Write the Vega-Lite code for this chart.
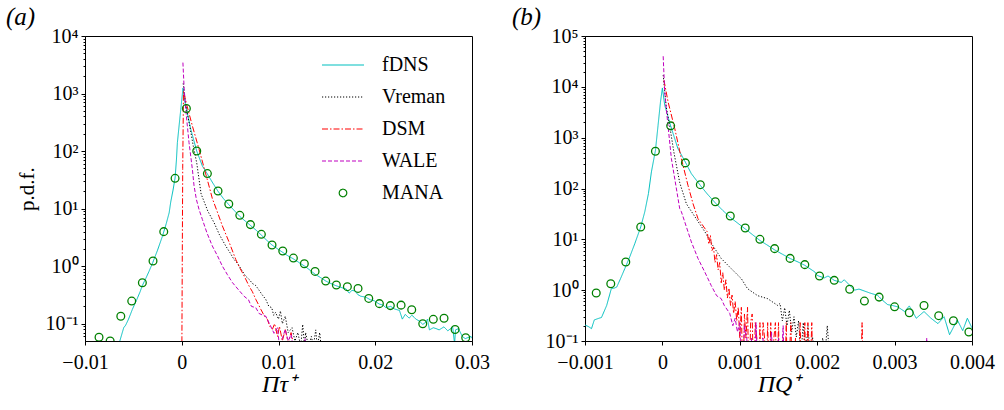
{
"$schema": "https://vega.github.io/schema/vega-lite/v6.json",
"padding": {"left": 5, "top": 4, "right": 5, "bottom": 5},
"background": "white",
"config": {
 "font": "Liberation Serif",
 "view": {"stroke": "black", "strokeWidth": 1},
 "axis": {"labelFont": "Liberation Serif", "labelFontSize": 20, "labelColor": "black", "tickColor": "black", "domainColor": "black", "grid": false, "tickSize": 4, "labelPadding": 3, "titleFont": "Liberation Serif", "titleColor": "black", "titleFontWeight": "normal", "labelFlush": false},
 "title": {"font": "Liberation Serif", "fontSize": 25, "fontStyle": "italic", "fontWeight": "normal", "anchor": "start", "frame": "bounds", "color": "black"},
 "concat": {"spacing": 21}
},
"datasets": {
 "a_lines": [
  {"s":"fDNS","x":-0.0066,"y":0.035},{"s":"fDNS","x":-0.0064,"y":0.05},{"s":"fDNS","x":-0.006,"y":0.085},{"s":"fDNS","x":-0.0058,"y":0.094},{"s":"fDNS","x":-0.0055,"y":0.12},{"s":"fDNS","x":-0.0051,"y":0.178},{"s":"fDNS","x":-0.0047,"y":0.25},{"s":"fDNS","x":-0.0043,"y":0.36},{"s":"fDNS","x":-0.0041,"y":0.45},{"s":"fDNS","x":-0.0037,"y":0.62},{"s":"fDNS","x":-0.0034,"y":0.8},{"s":"fDNS","x":-0.003,"y":1.15},{"s":"fDNS","x":-0.0025,"y":1.9},{"s":"fDNS","x":-0.002,"y":3.3},{"s":"fDNS","x":-0.0016,"y":5.5},{"s":"fDNS","x":-0.0013,"y":8.5},{"s":"fDNS","x":-0.00114,"y":13},{"s":"fDNS","x":-0.0009,"y":21},{"s":"fDNS","x":-0.00069,"y":34},{"s":"fDNS","x":-0.00055,"y":70},{"s":"fDNS","x":-0.00045,"y":141},{"s":"fDNS","x":-0.0003,"y":250},{"s":"fDNS","x":-0.0001,"y":533},{"s":"fDNS","x":0.00013,"y":1250},{"s":"fDNS","x":0.00034,"y":700},{"s":"fDNS","x":0.00048,"y":548},{"s":"fDNS","x":0.00093,"y":240},{"s":"fDNS","x":0.00155,"y":100},{"s":"fDNS","x":0.00213,"y":55},{"s":"fDNS","x":0.00265,"y":40},{"s":"fDNS","x":0.0032,"y":28},{"s":"fDNS","x":0.00375,"y":20},{"s":"fDNS","x":0.0043,"y":15},{"s":"fDNS","x":0.0049,"y":11.5},{"s":"fDNS","x":0.0055,"y":9},{"s":"fDNS","x":0.006,"y":7.3},{"s":"fDNS","x":0.0066,"y":6},{"s":"fDNS","x":0.0071,"y":5.1},{"s":"fDNS","x":0.0077,"y":4.2},{"s":"fDNS","x":0.0082,"y":3.5},{"s":"fDNS","x":0.0088,"y":2.8},{"s":"fDNS","x":0.0093,"y":2.35},{"s":"fDNS","x":0.0099,"y":2},{"s":"fDNS","x":0.0104,"y":1.75},{"s":"fDNS","x":0.011,"y":1.5},{"s":"fDNS","x":0.0115,"y":1.35},{"s":"fDNS","x":0.0121,"y":1.16},{"s":"fDNS","x":0.0127,"y":1},{"s":"fDNS","x":0.0133,"y":0.84},{"s":"fDNS","x":0.0138,"y":0.72},{"s":"fDNS","x":0.0143,"y":0.64},{"s":"fDNS","x":0.0149,"y":0.55},{"s":"fDNS","x":0.0154,"y":0.5},{"s":"fDNS","x":0.0159,"y":0.46},{"s":"fDNS","x":0.0164,"y":0.43},{"s":"fDNS","x":0.017,"y":0.4},{"s":"fDNS","x":0.0173,"y":0.34},{"s":"fDNS","x":0.0176,"y":0.38},{"s":"fDNS","x":0.0179,"y":0.37},{"s":"fDNS","x":0.0182,"y":0.32},{"s":"fDNS","x":0.0185,"y":0.3},{"s":"fDNS","x":0.019,"y":0.29},{"s":"fDNS","x":0.0195,"y":0.26},{"s":"fDNS","x":0.0199,"y":0.25},{"s":"fDNS","x":0.0204,"y":0.22},{"s":"fDNS","x":0.0208,"y":0.21},{"s":"fDNS","x":0.0211,"y":0.19},{"s":"fDNS","x":0.0216,"y":0.2},{"s":"fDNS","x":0.022,"y":0.18},{"s":"fDNS","x":0.0225,"y":0.17},{"s":"fDNS","x":0.0228,"y":0.12},{"s":"fDNS","x":0.0231,"y":0.145},{"s":"fDNS","x":0.0235,"y":0.125},{"s":"fDNS","x":0.0238,"y":0.14},{"s":"fDNS","x":0.0242,"y":0.12},{"s":"fDNS","x":0.0246,"y":0.11},{"s":"fDNS","x":0.0249,"y":0.097},{"s":"fDNS","x":0.0252,"y":0.105},{"s":"fDNS","x":0.0254,"y":0.12},{"s":"fDNS","x":0.0256,"y":0.078},{"s":"fDNS","x":0.026,"y":0.085},{"s":"fDNS","x":0.0263,"y":0.082},{"s":"fDNS","x":0.0266,"y":0.078},{"s":"fDNS","x":0.0271,"y":0.088},{"s":"fDNS","x":0.0275,"y":0.075},{"s":"fDNS","x":0.028,"y":0.088},{"s":"fDNS","x":0.0282,"y":0.045},{"s":"fDNS","x":0.0283,"y":0.078},{"s":"fDNS","x":0.0286,"y":0.082},{"s":"fDNS","x":0.029,"y":0.06},{"s":"fDNS","x":0.0293,"y":0.055},{"s":"fDNS","x":0.0299,"y":0.06},{"s":"fDNS","x":0.0302,"y":0.05},
  {"s":"Vreman","x":0.00015,"y":1500},{"s":"Vreman","x":0.0003,"y":900},{"s":"Vreman","x":0.0005,"y":520},{"s":"Vreman","x":0.00083,"y":273},{"s":"Vreman","x":0.0012,"y":120},{"s":"Vreman","x":0.00155,"y":62},{"s":"Vreman","x":0.002,"y":18},{"s":"Vreman","x":0.0027,"y":9},{"s":"Vreman","x":0.00334,"y":5.7},{"s":"Vreman","x":0.0039,"y":3.5},{"s":"Vreman","x":0.00455,"y":2.24},{"s":"Vreman","x":0.005,"y":1.7},{"s":"Vreman","x":0.0054,"y":1.31},{"s":"Vreman","x":0.0058,"y":1.1},{"s":"Vreman","x":0.0062,"y":0.85},{"s":"Vreman","x":0.0066,"y":0.67},{"s":"Vreman","x":0.007,"y":0.58},{"s":"Vreman","x":0.0073,"y":0.5},{"s":"Vreman","x":0.00765,"y":0.46},{"s":"Vreman","x":0.008,"y":0.38},{"s":"Vreman","x":0.0083,"y":0.32},{"s":"Vreman","x":0.00868,"y":0.265},{"s":"Vreman","x":0.009,"y":0.2},{"s":"Vreman","x":0.0093,"y":0.19},{"s":"Vreman","x":0.0095,"y":0.14},{"s":"Vreman","x":0.0097,"y":0.157},{"s":"Vreman","x":0.01,"y":0.12},{"s":"Vreman","x":0.0102,"y":0.166},{"s":"Vreman","x":0.0104,"y":0.1},{"s":"Vreman","x":0.0107,"y":0.135},{"s":"Vreman","x":0.011,"y":0.07},{"s":"Vreman","x":0.0114,"y":0.085},{"s":"Vreman","x":0.0117,"y":0.05},{"s":"Vreman","x":0.012,"y":0.07},{"s":"Vreman","x":0.0123,"y":0.04},{"s":"Vreman","x":0.0125,"y":0.097},{"s":"Vreman","x":0.0127,"y":0.04},{"s":"Vreman","x":0.0128,"y":0.07},{"s":"Vreman","x":0.0131,"y":0.04},{"s":"Vreman","x":0.0134,"y":0.06},{"s":"Vreman","x":0.0136,"y":0.04},{"s":"Vreman","x":0.01385,"y":0.078},{"s":"Vreman","x":0.014,"y":0.04},{"s":"Vreman","x":0.01426,"y":0.07},{"s":"Vreman","x":0.0144,"y":0.04},
  {"s":"DSM","x":0.00001,"y":0.03},{"s":"DSM","x":0.00005,"y":1},{"s":"DSM","x":0.0001,"y":50},{"s":"DSM","x":0.00018,"y":1100},{"s":"DSM","x":0.0005,"y":650},{"s":"DSM","x":0.0011,"y":273},{"s":"DSM","x":0.0018,"y":106},{"s":"DSM","x":0.00248,"y":40},{"s":"DSM","x":0.0029,"y":22},{"s":"DSM","x":0.00316,"y":15},{"s":"DSM","x":0.0036,"y":9.5},{"s":"DSM","x":0.0042,"y":5},{"s":"DSM","x":0.0049,"y":2.6},{"s":"DSM","x":0.00558,"y":1.31},{"s":"DSM","x":0.0059,"y":1},{"s":"DSM","x":0.00627,"y":0.77},{"s":"DSM","x":0.0066,"y":0.6},{"s":"DSM","x":0.00696,"y":0.45},{"s":"DSM","x":0.0073,"y":0.36},{"s":"DSM","x":0.00765,"y":0.265},{"s":"DSM","x":0.0079,"y":0.22},{"s":"DSM","x":0.00817,"y":0.178},{"s":"DSM","x":0.0085,"y":0.14},{"s":"DSM","x":0.00885,"y":0.119},{"s":"DSM","x":0.0091,"y":0.09},{"s":"DSM","x":0.00937,"y":0.08},{"s":"DSM","x":0.0096,"y":0.1},{"s":"DSM","x":0.0099,"y":0.06},{"s":"DSM","x":0.0101,"y":0.09},{"s":"DSM","x":0.0104,"y":0.05},{"s":"DSM","x":0.0107,"y":0.08},{"s":"DSM","x":0.011,"y":0.045},{"s":"DSM","x":0.0113,"y":0.07},{"s":"DSM","x":0.0116,"y":0.04},
  {"s":"WALE","x":0.00012,"y":3450},{"s":"WALE","x":0.00025,"y":1200},{"s":"WALE","x":0.00041,"y":533},{"s":"WALE","x":0.00075,"y":141},{"s":"WALE","x":0.0011,"y":48},{"s":"WALE","x":0.00127,"y":25},{"s":"WALE","x":0.00151,"y":14.5},{"s":"WALE","x":0.0018,"y":9.5},{"s":"WALE","x":0.00213,"y":6.5},{"s":"WALE","x":0.0026,"y":3.8},{"s":"WALE","x":0.00316,"y":2.24},{"s":"WALE","x":0.0037,"y":1.5},{"s":"WALE","x":0.0042,"y":1},{"s":"WALE","x":0.0047,"y":0.72},{"s":"WALE","x":0.00523,"y":0.52},{"s":"WALE","x":0.0058,"y":0.4},{"s":"WALE","x":0.00644,"y":0.3},{"s":"WALE","x":0.0069,"y":0.26},{"s":"WALE","x":0.0072,"y":0.2},{"s":"WALE","x":0.00765,"y":0.19},{"s":"WALE","x":0.008,"y":0.15},{"s":"WALE","x":0.0084,"y":0.14},{"s":"WALE","x":0.00868,"y":0.135},{"s":"WALE","x":0.0092,"y":0.09},{"s":"WALE","x":0.00954,"y":0.068},{"s":"WALE","x":0.0099,"y":0.085},{"s":"WALE","x":0.0101,"y":0.04},{"s":"WALE","x":0.0104,"y":0.055},{"s":"WALE","x":0.0107,"y":0.08},{"s":"WALE","x":0.011,"y":0.05},{"s":"WALE","x":0.0113,"y":0.065},{"s":"WALE","x":0.0115,"y":0.04},{"s":"WALE","x":0.0117,"y":0.05},{"s":"WALE","x":0.0119,"y":0.04},{"s":"WALE","x":0.0127,"y":0.04},{"s":"WALE","x":0.01275,"y":0.055},{"s":"WALE","x":0.0128,"y":0.04}
 ],
 "a_mana": [
  {"s":"MANA","x":-0.00855,"y":0.058},{"s":"MANA","x":-0.0074,"y":0.05},{"s":"MANA","x":-0.0063,"y":0.135},{"s":"MANA","x":-0.00517,"y":0.247},{"s":"MANA","x":-0.00407,"y":0.516},{"s":"MANA","x":-0.00297,"y":1.23},{"s":"MANA","x":-0.00186,"y":3.98},{"s":"MANA","x":-0.00069,"y":33.6},{"s":"MANA","x":0.00048,"y":548},{"s":"MANA","x":0.00155,"y":100},{"s":"MANA","x":0.00265,"y":40.6},{"s":"MANA","x":0.00375,"y":20.2},{"s":"MANA","x":0.00486,"y":12},{"s":"MANA","x":0.006,"y":7.64},{"s":"MANA","x":0.0071,"y":5.27},{"s":"MANA","x":0.00823,"y":3.57},{"s":"MANA","x":0.00933,"y":2.33},{"s":"MANA","x":0.01044,"y":1.83},{"s":"MANA","x":0.01154,"y":1.38},{"s":"MANA","x":0.01267,"y":1.1},{"s":"MANA","x":0.01378,"y":0.81},{"s":"MANA","x":0.01488,"y":0.55},{"s":"MANA","x":0.01598,"y":0.469},{"s":"MANA","x":0.01712,"y":0.44},{"s":"MANA","x":0.01822,"y":0.41},{"s":"MANA","x":0.01933,"y":0.275},{"s":"MANA","x":0.02043,"y":0.223},{"s":"MANA","x":0.02156,"y":0.206},{"s":"MANA","x":0.02267,"y":0.21},{"s":"MANA","x":0.02377,"y":0.175},{"s":"MANA","x":0.02491,"y":0.1},{"s":"MANA","x":0.026,"y":0.119},{"s":"MANA","x":0.02711,"y":0.124},{"s":"MANA","x":0.02825,"y":0.079},{"s":"MANA","x":0.02935,"y":0.057}
 ],
 "b_lines": [
  {"s":"fDNS","x":-0.00101,"y":0.21},{"s":"fDNS","x":-0.00095,"y":0.19},{"s":"fDNS","x":-0.000916,"y":0.175},{"s":"fDNS","x":-0.00088,"y":0.26},{"s":"fDNS","x":-0.00082,"y":0.28},{"s":"fDNS","x":-0.000787,"y":0.29},{"s":"fDNS","x":-0.00072,"y":0.5},{"s":"fDNS","x":-0.00066,"y":1.07},{"s":"fDNS","x":-0.00062,"y":1.1},{"s":"fDNS","x":-0.00059,"y":1.15},{"s":"fDNS","x":-0.00054,"y":1.7},{"s":"fDNS","x":-0.000486,"y":2.65},{"s":"fDNS","x":-0.00042,"y":4.6},{"s":"fDNS","x":-0.000357,"y":8.2},{"s":"fDNS","x":-0.00028,"y":17.5},{"s":"fDNS","x":-0.000228,"y":34.6},{"s":"fDNS","x":-0.00018,"y":80},{"s":"fDNS","x":-0.000142,"y":212},{"s":"fDNS","x":-0.00009,"y":560},{"s":"fDNS","x":-0.000056,"y":1750},{"s":"fDNS","x":-0.000025,"y":5000},{"s":"fDNS","x":0,"y":9500},{"s":"fDNS","x":0.00003,"y":4350},{"s":"fDNS","x":0.000107,"y":1700},{"s":"fDNS","x":0.0002,"y":610},{"s":"fDNS","x":0.000297,"y":330},{"s":"fDNS","x":0.000374,"y":196},{"s":"fDNS","x":0.00049,"y":115},{"s":"fDNS","x":0.00058,"y":78},{"s":"fDNS","x":0.000684,"y":52},{"s":"fDNS","x":0.00078,"y":37},{"s":"fDNS","x":0.000877,"y":27},{"s":"fDNS","x":0.00097,"y":21},{"s":"fDNS","x":0.00107,"y":16},{"s":"fDNS","x":0.00116,"y":12.5},{"s":"fDNS","x":0.00126,"y":9.5},{"s":"fDNS","x":0.00135,"y":7.8},{"s":"fDNS","x":0.00145,"y":6.2},{"s":"fDNS","x":0.00155,"y":5.1},{"s":"fDNS","x":0.00165,"y":4.2},{"s":"fDNS","x":0.00175,"y":3.6},{"s":"fDNS","x":0.00184,"y":3.08},{"s":"fDNS","x":0.00197,"y":2.28},{"s":"fDNS","x":0.002,"y":1.95},{"s":"fDNS","x":0.00209,"y":1.74},{"s":"fDNS","x":0.00214,"y":1.9},{"s":"fDNS","x":0.00222,"y":1.56},{"s":"fDNS","x":0.00231,"y":1.42},{"s":"fDNS","x":0.00235,"y":1.6},{"s":"fDNS","x":0.00244,"y":1.16},{"s":"fDNS","x":0.00248,"y":1},{"s":"fDNS","x":0.00254,"y":1.05},{"s":"fDNS","x":0.00258,"y":1},{"s":"fDNS","x":0.00268,"y":0.88},{"s":"fDNS","x":0.00278,"y":0.79},{"s":"fDNS","x":0.00285,"y":0.62},{"s":"fDNS","x":0.00291,"y":0.52},{"s":"fDNS","x":0.00297,"y":0.5},{"s":"fDNS","x":0.00304,"y":0.47},{"s":"fDNS","x":0.00313,"y":0.38},{"s":"fDNS","x":0.00319,"y":0.49},{"s":"fDNS","x":0.00328,"y":0.28},{"s":"fDNS","x":0.00338,"y":0.38},{"s":"fDNS","x":0.00347,"y":0.28},{"s":"fDNS","x":0.00356,"y":0.22},{"s":"fDNS","x":0.00364,"y":0.3},{"s":"fDNS","x":0.00371,"y":0.133},{"s":"fDNS","x":0.00381,"y":0.26},{"s":"fDNS","x":0.00388,"y":0.16},{"s":"fDNS","x":0.00394,"y":0.28},{"s":"fDNS","x":0.004,"y":0.18},{"s":"fDNS","x":0.00402,"y":0.17},
  {"s":"Vreman","x":0.00001,"y":17000},{"s":"Vreman","x":0.00005,"y":4000},{"s":"Vreman","x":0.0001,"y":1500},{"s":"Vreman","x":0.00015,"y":500},{"s":"Vreman","x":0.000224,"y":130},{"s":"Vreman","x":0.00031,"y":50},{"s":"Vreman","x":0.00044,"y":25},{"s":"Vreman","x":0.00055,"y":14},{"s":"Vreman","x":0.00065,"y":7.6},{"s":"Vreman","x":0.00076,"y":4.2},{"s":"Vreman","x":0.00089,"y":2.65},{"s":"Vreman","x":0.00102,"y":1.68},{"s":"Vreman","x":0.0011,"y":1.07},{"s":"Vreman","x":0.00123,"y":0.78},{"s":"Vreman","x":0.00136,"y":0.68},{"s":"Vreman","x":0.00149,"y":0.5},{"s":"Vreman","x":0.00152,"y":0.55},{"s":"Vreman","x":0.00155,"y":0.25},{"s":"Vreman","x":0.00158,"y":0.45},{"s":"Vreman","x":0.00161,"y":0.2},{"s":"Vreman","x":0.00164,"y":0.4},{"s":"Vreman","x":0.00167,"y":0.15},{"s":"Vreman","x":0.0017,"y":0.3},{"s":"Vreman","x":0.00173,"y":0.12},{"s":"Vreman","x":0.00176,"y":0.25},{"s":"Vreman","x":0.00179,"y":0.05},{"s":"Vreman","x":0.00182,"y":0.23},{"s":"Vreman","x":0.00185,"y":0.05},{"s":"Vreman","x":0.00188,"y":0.2},{"s":"Vreman","x":0.00191,"y":0.05},{"s":"Vreman","x":0.00194,"y":0.12},{"s":"Vreman","x":0.00197,"y":0.05},{"s":"Vreman","x":0.00205,"y":0.05},{"s":"Vreman","x":0.00207,"y":0.115},{"s":"Vreman","x":0.0021,"y":0.05},{"s":"Vreman","x":0.00213,"y":0.2},{"s":"Vreman","x":0.00216,"y":0.05},
  {"s":"DSM","x":0.00002,"y":13500},{"s":"DSM","x":0.000074,"y":5000},{"s":"DSM","x":0.00016,"y":1500},{"s":"DSM","x":0.000245,"y":388},{"s":"DSM","x":0.00033,"y":116},{"s":"DSM","x":0.000396,"y":50},{"s":"DSM","x":0.00046,"y":25.5},{"s":"DSM","x":0.00058,"y":14},{"s":"DSM","x":0.0006,"y":8},{"s":"DSM","x":0.00062,"y":12},{"s":"DSM","x":0.00064,"y":6},{"s":"DSM","x":0.00066,"y":7},{"s":"DSM","x":0.00068,"y":3.5},{"s":"DSM","x":0.0007,"y":5},{"s":"DSM","x":0.00072,"y":2.5},{"s":"DSM","x":0.00074,"y":3.5},{"s":"DSM","x":0.00076,"y":1.4},{"s":"DSM","x":0.00078,"y":2.2},{"s":"DSM","x":0.0008,"y":1},{"s":"DSM","x":0.00082,"y":1.6},{"s":"DSM","x":0.00084,"y":0.7},{"s":"DSM","x":0.00086,"y":1.1},{"s":"DSM","x":0.00088,"y":0.5},{"s":"DSM","x":0.0009,"y":0.8},{"s":"DSM","x":0.00092,"y":0.35},{"s":"DSM","x":0.00094,"y":0.6},{"s":"DSM","x":0.00096,"y":0.25},{"s":"DSM","x":0.00098,"y":0.46},{"s":"DSM","x":0.001,"y":0.114},{"s":"DSM","x":0.00102,"y":0.46},{"s":"DSM","x":0.00104,"y":0.01},{"s":"DSM","x":0.00106,"y":0.34},{"s":"DSM","x":0.00108,"y":0.114},{"s":"DSM","x":0.0011,"y":0.46},{"s":"DSM","x":0.00112,"y":0.01},{"s":"DSM","x":0.00114,"y":0.23},{"s":"DSM","x":0.00116,"y":0.34},{"s":"DSM","x":0.00118,"y":0.01},{"s":"DSM","x":0.0012,"y":0.23},{"s":"DSM","x":0.00122,"y":0.114},{"s":"DSM","x":0.00124,"y":0.01},{"s":"DSM","x":0.00126,"y":0.23},{"s":"DSM","x":0.00128,"y":0.01},{"s":"DSM","x":0.0013,"y":0.23},{"s":"DSM","x":0.00132,"y":0.114},{"s":"DSM","x":0.00134,"y":0.01},{"s":"DSM","x":0.00136,"y":0.23},{"s":"DSM","x":0.00138,"y":0.01},{"s":"DSM","x":0.0014,"y":0.23},{"s":"DSM","x":0.00142,"y":0.01},{"s":"DSM","x":0.00144,"y":0.114},{"s":"DSM","x":0.00146,"y":0.23},{"s":"DSM","x":0.00148,"y":0.01},{"s":"DSM","x":0.0015,"y":0.23},{"s":"DSM","x":0.00152,"y":0.01},{"s":"DSM","x":0.00156,"y":0.114},{"s":"DSM","x":0.00158,"y":0.01},{"s":"DSM","x":0.0016,"y":0.23},{"s":"DSM","x":0.00162,"y":0.01},{"s":"DSM","x":0.00166,"y":0.23},{"s":"DSM","x":0.00168,"y":0.01},{"s":"DSM","x":0.00172,"y":0.114},{"s":"DSM","x":0.00174,"y":0.01},{"s":"DSM","x":0.00178,"y":0.23},{"s":"DSM","x":0.0018,"y":0.01},{"s":"DSM","x":0.00184,"y":0.23},{"s":"DSM","x":0.00186,"y":0.01},{"s":"DSM","x":0.00188,"y":0.23},{"s":"DSM","x":0.0019,"y":0.01},{"s":"DSM","x":0.00193,"y":0.23},{"s":"DSM","x":0.00195,"y":0.01},{"s":"DSM","x":0.00256,"y":0.01},{"s":"DSM","x":0.00258,"y":0.23},{"s":"DSM","x":0.0026,"y":0.01},
  {"s":"WALE","x":0.00001,"y":40000},{"s":"WALE","x":0.00003,"y":7960},{"s":"WALE","x":0.00005,"y":3740},{"s":"WALE","x":0.000116,"y":388},{"s":"WALE","x":0.000224,"y":40},{"s":"WALE","x":0.000245,"y":35},{"s":"WALE","x":0.000374,"y":8.9},{"s":"WALE","x":0.00046,"y":4.2},{"s":"WALE","x":0.000546,"y":2.3},{"s":"WALE","x":0.00063,"y":1.24},{"s":"WALE","x":0.0007,"y":0.78},{"s":"WALE","x":0.00076,"y":0.68},{"s":"WALE","x":0.0008,"y":0.5},{"s":"WALE","x":0.00087,"y":0.35},{"s":"WALE","x":0.00091,"y":0.2},{"s":"WALE","x":0.00094,"y":0.28},{"s":"WALE","x":0.00097,"y":0.15},{"s":"WALE","x":0.001,"y":0.23},{"s":"WALE","x":0.00103,"y":0.01},{"s":"WALE","x":0.00106,"y":0.2},{"s":"WALE","x":0.00109,"y":0.114},{"s":"WALE","x":0.00112,"y":0.01},{"s":"WALE","x":0.00115,"y":0.114},{"s":"WALE","x":0.00118,"y":0.01},{"s":"WALE","x":0.00121,"y":0.23},{"s":"WALE","x":0.00124,"y":0.01},{"s":"WALE","x":0.0013,"y":0.114},{"s":"WALE","x":0.00133,"y":0.01},{"s":"WALE","x":0.00141,"y":0.15},{"s":"WALE","x":0.00144,"y":0.01},{"s":"WALE","x":0.0015,"y":0.114},{"s":"WALE","x":0.00152,"y":0.01},{"s":"WALE","x":0.00156,"y":0.2},{"s":"WALE","x":0.00158,"y":0.01},{"s":"WALE","x":0.00341,"y":0.01},{"s":"WALE","x":0.003415,"y":0.114},{"s":"WALE","x":0.00342,"y":0.01}
 ],
 "b_mana": [
  {"s":"MANA","x":-0.000855,"y":0.88},{"s":"MANA","x":-0.000667,"y":1.34},{"s":"MANA","x":-0.000473,"y":3.59},{"s":"MANA","x":-0.00028,"y":17.5},{"s":"MANA","x":-0.00009,"y":540},{"s":"MANA","x":0.000107,"y":1706},{"s":"MANA","x":0.000297,"y":319},{"s":"MANA","x":0.00049,"y":119},{"s":"MANA","x":0.000684,"y":55},{"s":"MANA","x":0.000877,"y":28.8},{"s":"MANA","x":0.00107,"y":16.7},{"s":"MANA","x":0.00126,"y":10},{"s":"MANA","x":0.00145,"y":6.56},{"s":"MANA","x":0.00165,"y":4.22},{"s":"MANA","x":0.00184,"y":3.18},{"s":"MANA","x":0.00203,"y":1.9},{"s":"MANA","x":0.00222,"y":1.56},{"s":"MANA","x":0.00242,"y":1.04},{"s":"MANA","x":0.00261,"y":0.61},{"s":"MANA","x":0.0028,"y":0.73},{"s":"MANA","x":0.003,"y":0.47},{"s":"MANA","x":0.00319,"y":0.36},{"s":"MANA","x":0.00338,"y":0.5},{"s":"MANA","x":0.00357,"y":0.315},{"s":"MANA","x":0.00376,"y":0.25},{"s":"MANA","x":0.00396,"y":0.15}
 ]
},
"hconcat": [
 {
  "title": {"text": "(a)", "dx": -10, "offset": -4},
  "width": 387, "height": 305,
  "resolve": {"axis": {"y": "independent"}},
  "layer": [
   {
    "data": {"name": "a_lines"},
    "mark": {"type": "line", "strokeWidth": 1, "clip": true},
    "encoding": {
     "x": {"field": "x", "type": "quantitative", "scale": {"domain": [-0.01, 0.03], "nice": false, "zero": false},
           "axis": {"values": [-0.01, 0, 0.01, 0.02, 0.03], "format": "~g", "labelFontSize": 20, "labelPadding": 7, "labelFlush": false, "title": "Πτ⁺", "titleFontSize": 24, "titleFontStyle": "italic", "titlePadding": 0}},
     "y": {"field": "y", "type": "quantitative", "scale": {"type": "log", "domain": [0.05, 10000], "nice": false},
           "axis": {"values": [0.1, 1, 10, 100, 1000, 10000], "labelFontSize": 20, "minExtent": 44, "maxExtent": 44, "labelExpr": "'10' + (datum.value < 1 ? '⁻¹' : ['⁰','¹','²','³','⁴','⁵'][round(log(datum.value)/LN10)])", "title": "p.d.f.", "titleFontSize": 21, "titlePadding": 4}},
     "color": {"field": "s", "type": "nominal",
               "scale": {"domain": ["fDNS", "Vreman", "DSM", "WALE", "MANA"], "range": ["#00bfbf", "#000000", "#ff0000", "#bf00bf", "#008000"]},
               "legend": {"title": null, "orient": "none", "legendX": 236, "legendY": 7, "padding": 0,
                          "labelFont": "Liberation Serif", "labelFontSize": 20, "labelColor": "black", "labelOffset": 17,
                          "symbolSize": 1764, "symbolStrokeWidth": 1.2, "rowPadding": -1,
                          "encode": {"symbols": {"update": {
                            "shape": {"signal": "datum.value === 'MANA' ? 'M-0.18,0A0.18,0.18 0 1,0 0.18,0A0.18,0.18 0 1,0 -0.18,0Z' : 'stroke'"},
                            "strokeDash": {"signal": "datum.value === 'Vreman' ? [1.2,1.8] : datum.value === 'DSM' ? [6,2,1.5,2] : datum.value === 'WALE' ? [4,2] : [1,0]"},
                            "stroke": {"signal": "datum.value === 'fDNS' ? '#00bfbf' : datum.value === 'Vreman' ? '#000000' : datum.value === 'DSM' ? '#ff0000' : datum.value === 'WALE' ? '#bf00bf' : '#008000'"},
                            "fill": {"value": "transparent"},
                            "opacity": {"value": 1}
                          }}}}},
     "strokeDash": {"field": "s", "type": "nominal", "scale": {"domain": ["fDNS", "Vreman", "DSM", "WALE"], "range": [[1, 0], [1.2, 1.8], [6, 2, 1.5, 2], [4, 2]]}, "legend": null}
    }
   },
   {
    "data": {"name": "a_mana"},
    "mark": {"type": "point", "shape": "circle", "filled": false, "size": 60, "strokeWidth": 1.3, "opacity": 1, "clip": true},
    "encoding": {
     "x": {"field": "x", "type": "quantitative"},
     "y": {"field": "y", "type": "quantitative", "axis": {"orient": "left", "values": [0.06,0.07,0.08,0.09,0.2,0.3,0.4,0.5,0.6,0.7,0.8,0.9,2,3,4,5,6,7,8,9,20,30,40,50,60,70,80,90,200,300,400,500,600,700,800,900,2000,3000,4000,5000,6000,7000,8000,9000], "labels": false, "domain": false, "tickSize": 2, "title": null}},
     "color": {"field": "s", "type": "nominal"}
    }
   }
  ]
 },
 {
  "title": {"text": "(b)", "dx": -33, "offset": -4},
  "width": 387, "height": 305,
  "resolve": {"axis": {"y": "independent"}},
  "layer": [
   {
    "data": {"name": "b_lines"},
    "mark": {"type": "line", "strokeWidth": 1, "clip": true},
    "encoding": {
     "x": {"field": "x", "type": "quantitative", "scale": {"domain": [-0.001, 0.004], "nice": false, "zero": false},
           "axis": {"values": [-0.001, 0, 0.001, 0.002, 0.003, 0.004], "format": "~g", "labelFontSize": 20, "labelPadding": 7, "labelFlush": false, "title": "ΠQ⁺", "titleFontSize": 24, "titleFontStyle": "italic", "titlePadding": 0}},
     "y": {"field": "y", "type": "quantitative", "scale": {"type": "log", "domain": [0.1, 100000], "nice": false},
           "axis": {"values": [0.1, 1, 10, 100, 1000, 10000, 100000], "labelFontSize": 20, "minExtent": 40, "maxExtent": 40, "labelExpr": "'10' + (datum.value < 1 ? '⁻¹' : ['⁰','¹','²','³','⁴','⁵'][round(log(datum.value)/LN10)])", "title": null}},
     "color": {"field": "s", "type": "nominal",
               "scale": {"domain": ["fDNS", "Vreman", "DSM", "WALE", "MANA"], "range": ["#00bfbf", "#000000", "#ff0000", "#bf00bf", "#008000"]},
               "legend": null},
     "strokeDash": {"field": "s", "type": "nominal", "scale": {"domain": ["fDNS", "Vreman", "DSM", "WALE"], "range": [[1, 0], [1.2, 1.8], [6, 2, 1.5, 2], [4, 2]]}, "legend": null}
    }
   },
   {
    "data": {"name": "b_mana"},
    "mark": {"type": "point", "shape": "circle", "filled": false, "size": 60, "strokeWidth": 1.3, "opacity": 1, "clip": true},
    "encoding": {
     "x": {"field": "x", "type": "quantitative"},
     "y": {"field": "y", "type": "quantitative", "axis": {"orient": "left", "values": [0.2,0.3,0.4,0.5,0.6,0.7,0.8,0.9,2,3,4,5,6,7,8,9,20,30,40,50,60,70,80,90,200,300,400,500,600,700,800,900,2000,3000,4000,5000,6000,7000,8000,9000,20000,30000,40000,50000,60000,70000,80000,90000], "labels": false, "domain": false, "tickSize": 2, "title": null}},
     "color": {"field": "s", "type": "nominal", "legend": null}
    }
   }
  ]
 }
],
"resolve": {"scale": {"x": "independent", "y": "independent", "color": "independent", "strokeDash": "independent"}, "legend": {"color": "independent", "strokeDash": "independent"}}
}
